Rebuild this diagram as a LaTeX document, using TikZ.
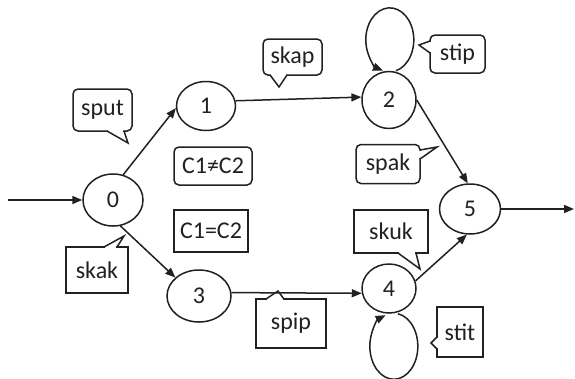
\documentclass[tikz,border=0pt]{standalone}
\usepackage{fontspec}
\setmainfont{Carlito}
\usetikzlibrary{shapes.geometric,arrows.meta}
\definecolor{ink}{gray}{0.13}
% pointer of a speech box: base point, tip, base point
\newcommand\callptr[3]{%
  \draw[white,line width=2.8pt,shorten <=0.95pt,shorten >=0.95pt] #1 -- #3;
  \draw[ink,line join=miter] #1 -- #2 -- #3;}
\begin{document}
\begin{tikzpicture}[x=1pt,y=-1pt,line width=1.5pt,ink,
  font=\fontsize{24}{28}\selectfont,
  state/.style={draw=ink,ellipse,inner sep=0pt},
  say/.style={draw=ink,rectangle,inner sep=0pt,fill=white},
  roundsay/.style={say,rounded corners=5pt},
  arr/.style={-{Triangle[length=10pt,width=8pt]}}]
\useasboundingbox (0,0) rectangle (575,378);

% states
\node[state,minimum width=60pt,minimum height=52pt] (n0) at (113,200) {0};
\node[state,minimum width=59pt,minimum height=49pt] (n1) at (206,106) {1};
\node[state,minimum width=54pt,minimum height=57pt] (n2) at (389,100) {2};
\node[state,minimum width=64pt,minimum height=52pt] (n3) at (199,296) {3};
\node[state,minimum width=54pt,minimum height=49pt] (n4) at (389,288.5) {4};
\node[state,minimum width=61pt,minimum height=50pt] (n5) at (470,209) {5};

\coordinate (in) at (8,200);
\coordinate (out) at (574,209);

% transitions
\draw[arr] (in) -- (n0);
\draw[arr] (n0.68) -- (n1.184);
\draw[arr] (n0.-74) -- (n3.142);
\draw[arr] (n1.10) -- (n2.174);
\draw[arr] (n3.6) -- (n4.190);
\draw[arr] (n2.east) -- (n5.95);
\draw[arr] (n4.16) -- (n5.263);
\draw[arr] (n5.east) -- (out);

% self loops
\draw[arr] ([xshift=7pt]n2.north) arc[start angle=75,end angle=-253.5,x radius=24,y radius=32];
\draw[arr] ([xshift=9pt]n4.south) arc[start angle=-80,end angle=250,x radius=24,y radius=33];

% speech boxes
\node[roundsay,minimum width=59pt,minimum height=42pt] (sput) at (102.5,110) {sput};
\callptr{(107,131)}{(128,143)}{(124,131)}
\node[roundsay,minimum width=59pt,minimum height=36pt] (skap) at (292.5,57) {skap};
\callptr{(270,75)}{(279,87)}{(287,75)}
\node[roundsay,minimum width=55pt,minimum height=38pt] (stip) at (457.5,54) {stip};
\callptr{(430,41)}{(419,45)}{(430,53)}
\node[roundsay,minimum width=64pt,minimum height=39pt] (spak) at (388,164) {spak};
\callptr{(420,150)}{(437,147)}{(420,159)}
\node[say,minimum width=62pt,minimum height=46pt] (skak) at (97,270) {skak};
\callptr{(104,247)}{(124,236)}{(117,247)}
\node[say,minimum width=70pt,minimum height=49pt] (spip) at (291,323.5) {spip};
\callptr{(266,299)}{(278,291)}{(284,299)}
\node[say,minimum width=74pt,minimum height=43pt] (skuk) at (391,231.5) {skuk};
\callptr{(398,253)}{(420,269)}{(416,253)}
\node[say,minimum width=46pt,minimum height=50pt] (stit) at (460,332) {stit};
\callptr{(437,337)}{(431,343)}{(437,349)}

% conditions
\node[roundsay,minimum width=78pt,minimum height=38pt] (cne) at (213,166) {C1≠C2};
\node[say,minimum width=74pt,minimum height=42pt] (ceq) at (211,231) {C1=C2};
\end{tikzpicture}
\end{document}
